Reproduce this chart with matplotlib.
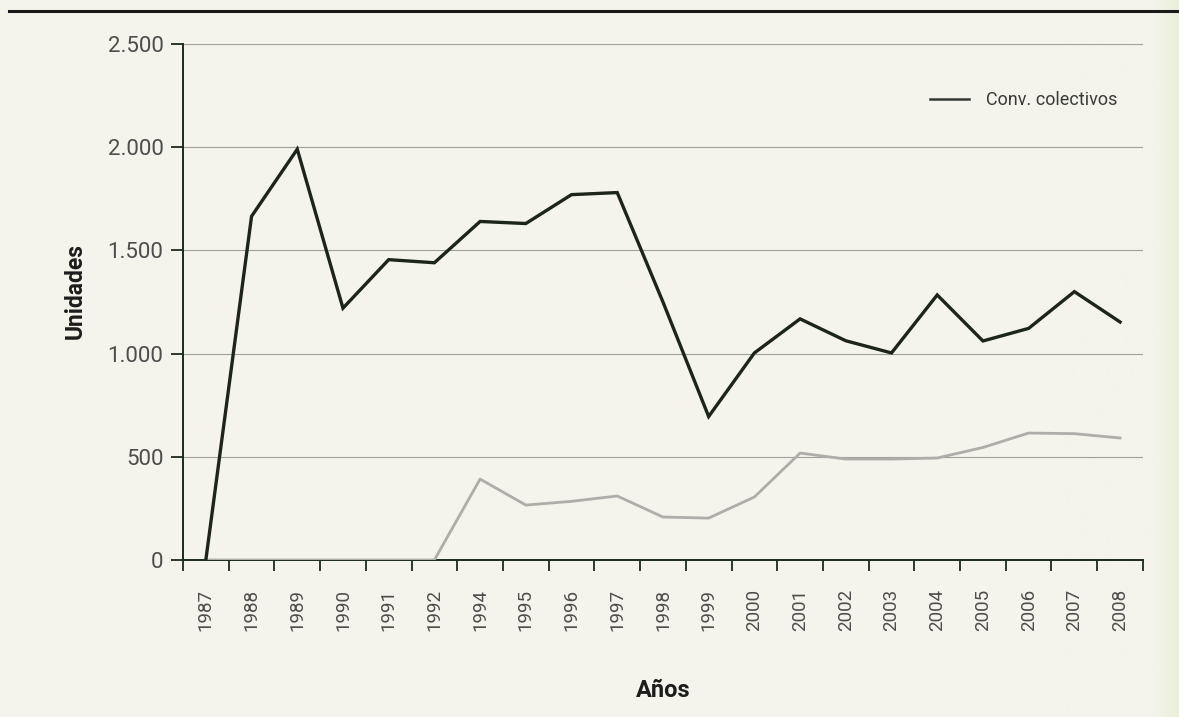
import matplotlib
matplotlib.use("Agg")
import matplotlib.pyplot as plt
import numpy as np
from matplotlib.lines import Line2D
from matplotlib.colors import LinearSegmentedColormap

years = ["1987", "1988", "1989", "1990", "1991", "1992", "1994", "1995", "1996",
         "1997", "1998", "1999", "2000", "2001", "2002", "2003", "2004", "2005",
         "2006", "2007", "2008"]
conv_colectivos = [0, 1665, 1990, 1220, 1455, 1440, 1640, 1630, 1770, 1780, 1250,
                   695, 1003, 1168, 1062, 1003, 1284, 1061, 1122, 1300, 1153]
serie_gris = [0, 0, 0, 0, 0, 0, 392, 266, 284, 310, 208, 203, 305, 518, 489,
              489, 494, 545, 615, 612, 591]
y_ticks = [0, 500, 1000, 1500, 2000, 2500]
y_tick_labels = ["0", "500", "1.000", "1.500", "2.000", "2.500"]

plt.rcParams['font.family'] = ['Roboto', 'DejaVu Sans']

bg = "#f4f4ec"
fig = plt.figure(figsize=(11.79, 7.17), dpi=100, facecolor=bg)

# Slight green tint towards the right edge of the page
tint = LinearSegmentedColormap.from_list("tint", [bg, bg, "#e9efd9"])
grad = np.linspace(0, 1, 256).reshape(1, -1) ** 3
bg_ax = fig.add_axes([0.9, 0, 0.1, 1], zorder=-5)
bg_ax.imshow(grad, aspect="auto", cmap=tint, extent=[0, 1, 0, 1])
bg_ax.axis("off")

ax = fig.add_axes([0.1552, 0.219, 0.8142, 0.7197])
ax.patch.set_alpha(0)

x = np.arange(len(years))
ax.plot(x, serie_gris, color="#adadaa", lw=2.0, solid_joinstyle="round", zorder=3)
ax.plot(x, conv_colectivos, color="#1c241c", lw=2.4, solid_joinstyle="miter", zorder=4)

ax.set_xlim(-0.5, len(years) - 0.5)
ax.set_ylim(0, 2500)

# Category boundaries carry the tick marks; labels sit at the category centres
ax.set_xticks(np.arange(-0.5, len(years)), minor=False)
ax.set_xticklabels([])
ax.set_xticks(x, minor=True)
ax.set_xticklabels(years, minor=True, rotation=90, fontsize=13.5, color="#4d4d4d")
ax.tick_params(axis="x", which="major", length=8, width=1.3, color="#1c2a1c", direction="out")
ax.tick_params(axis="x", which="minor", length=0, pad=21)

ax.set_yticks(y_ticks)
ax.set_yticklabels(y_tick_labels, fontsize=16, color="#4d4d4d")
ax.tick_params(axis="y", length=9, width=1.3, color="#1c2a1c", pad=5)

ax.grid(axis="y", color="#a0a09a", lw=0.8)
ax.set_axisbelow(True)

for side in ("top", "right"):
    ax.spines[side].set_visible(False)
for side in ("left", "bottom"):
    ax.spines[side].set_color("#1c2a1c")
    ax.spines[side].set_linewidth(1.4)

ax.set_ylabel("Unidades", fontsize=16.5, fontweight="bold", color="#1c1c1c", labelpad=16)
ax.yaxis.set_label_coords(-0.1, 0.521)
ax.set_xlabel("Años", fontsize=17, fontweight="bold", color="#1c1c1c", labelpad=34)

handle = Line2D([], [], color="#333833", lw=1.8)
ax.legend([handle], ["Conv. colectivos"], loc="upper right", bbox_to_anchor=(0.99, 0.94),
          frameon=False, fontsize=13, handlelength=2.2, handletextpad=0.9,
          labelcolor="#3a3a3a")

# Rule across the top of the page
fig.add_artist(Line2D([0.008, 1.0], [0.985, 0.985], color="#1a1a1a", lw=2.2,
                      transform=fig.transFigure))

fig.savefig("out.png", dpi=100, facecolor=bg)
